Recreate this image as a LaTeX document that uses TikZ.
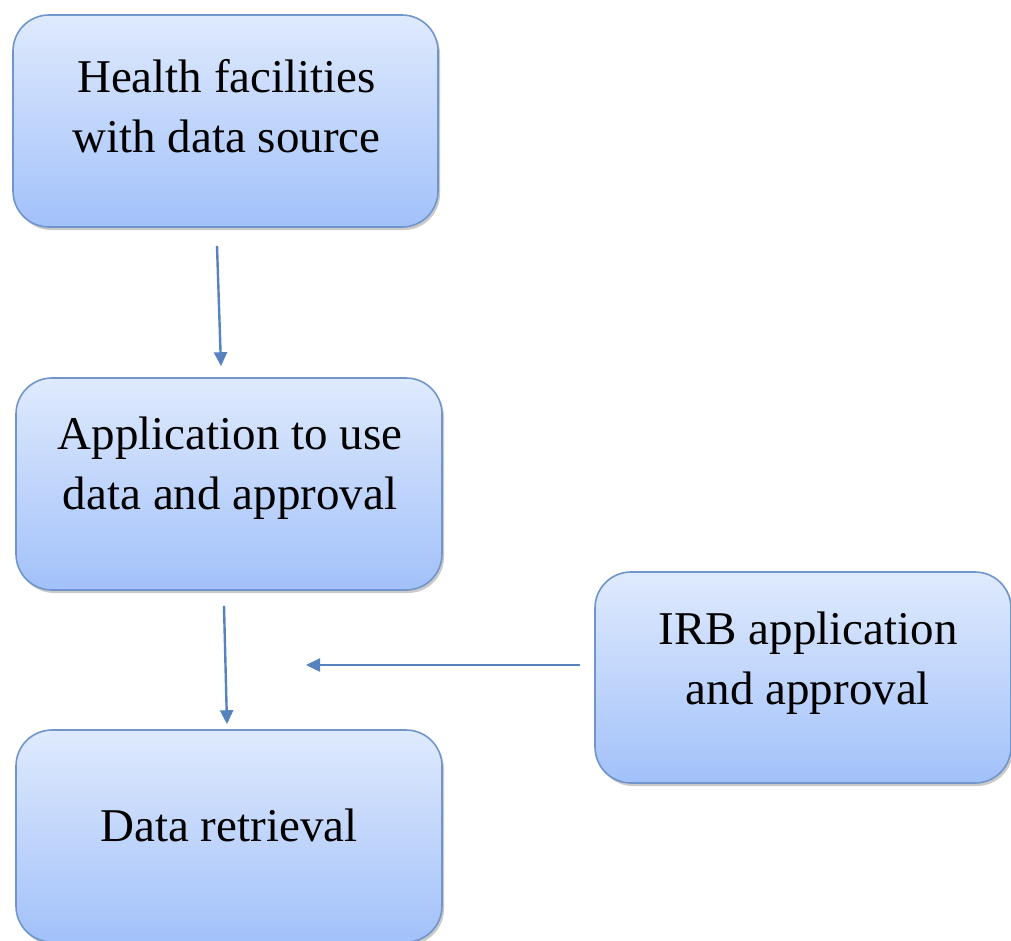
\documentclass[tikz,border=0pt]{standalone}
\usepackage{fontspec}
\setmainfont{Liberation Serif}
\usetikzlibrary{shadows,arrows.meta}
\definecolor{boxtop}{HTML}{DFEAFD}
\definecolor{boxbot}{HTML}{A2C1FA}
\definecolor{boxline}{HTML}{6F95CB}
\definecolor{arrowcol}{HTML}{5683C0}
\tikzset{
  flowbox/.style={rectangle, rounded corners=36pt, draw=boxline, line width=1.6pt,
    top color=boxtop, bottom color=boxbot, inner sep=0pt,
    drop shadow={shadow xshift=2pt, shadow yshift=-3pt, opacity=0.35, fill=black!60}},
  boxtext/.style={align=center, font=\fontsize{47}{60}\selectfont, inner sep=0pt},
  flowarrow/.style={draw=arrowcol, line width=2.4pt,
    -{Triangle[length=14pt,width=13pt]}}
}
\begin{document}
\begin{tikzpicture}[x=1pt,y=-1pt]
\useasboundingbox (0,0) rectangle (1011,940);
\begin{scope}
\clip (0,0) rectangle (1011,940);
% boxes
\node[flowbox, minimum width=425pt, minimum height=212pt] (hf) at (225.5,121) {};
\node[flowbox, minimum width=426pt, minimum height=212pt] (app) at (229,484) {};
\node[flowbox, minimum width=426pt, minimum height=212pt] (ret) at (229,836) {};
\node[flowbox, minimum width=416pt, minimum height=211pt] (irb) at (803,677.5) {};
% labels
\node[boxtext] (hft) at ([xshift=1pt,yshift=15pt]hf.center) {Health facilities\\with data source};
\node[boxtext] (appt) at ([xshift=1pt,yshift=16pt]app.center) {Application to use\\data and approval};
\node[boxtext] (rett) at ([yshift=11pt]ret.center) {Data retrieval};
\node[boxtext] (irbt) at ([xshift=5pt,yshift=14pt]irb.center) {IRB application\\and approval};
% connectors
\coordinate (a1s) at ([xshift=-8.5pt,yshift=-18pt]hf.south);
\coordinate (a1e) at ([xshift=-8pt,yshift=11pt]app.north);
\coordinate (a2s) at ([xshift=-5pt,yshift=-15pt]app.south);
\coordinate (a2e) at ([xshift=-2pt,yshift=5pt]ret.north);
\coordinate (a3s) at ([xshift=-14pt,yshift=12.5pt]irb.west);
\coordinate (a3e) at (306,665);
\draw[flowarrow] (a1s) -- (a1e);
\draw[flowarrow] (a2s) -- (a2e);
\draw[flowarrow] (a3s) -- (a3e);
\end{scope}
\end{tikzpicture}
\end{document}
